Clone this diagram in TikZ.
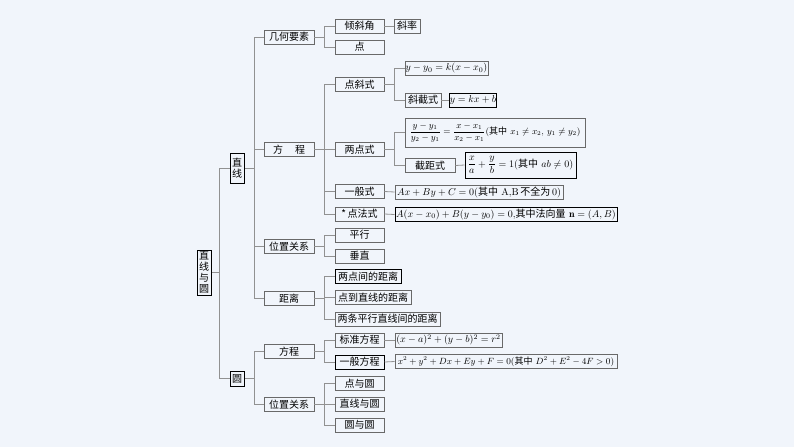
\documentclass[tikz,border=0pt]{standalone}
\usepackage{fontspec}
\usepackage{amsmath}
\newfontfamily\cjk{Noto Sans CJK SC}
\newcommand\zhtxt[1]{{\cjk #1}}
\definecolor{bg}{RGB}{241,245,251}
\definecolor{ln}{RGB}{145,145,145}
\definecolor{bd}{RGB}{105,105,105}
\begin{document}
\begin{tikzpicture}[x=1pt,y=-1pt,
  bx/.style={draw=bd, line width=0.8pt, inner sep=0pt, minimum height=14pt,
    font=\cjk\fontsize{10}{11}\selectfont, anchor=center},
  tk/.style={bx, draw=black, line width=1pt},
  fm/.style={bx, font=\fontsize{10}{11}\selectfont},
  fms/.style={bx, font=\fontsize{9}{10}\selectfont},
  fmt/.style={tk, font=\fontsize{10}{11}\selectfont},
  cn/.style={draw=ln, line width=0.8pt}]
\fill[bg] (0,0) rectangle (794,447);
\useasboundingbox (0,0) rectangle (794,447);

% level 0 and 1
\node[tk, minimum width=14pt, minimum height=45pt, align=center] (root) at (204,272.5) {直\\线\\与\\圆};
\node[tk, minimum width=14pt, minimum height=30pt, align=center] (zx) at (237,168) {直\\线};
\node[tk, minimum width=14pt, minimum height=15pt] (yuan) at (237,378.5) {圆};

% level 2
\node[bx, minimum width=50pt] (jhys) at (289,37) {几何要素};
\node[bx, minimum width=50pt] (fc) at (289,149.5) {方\hspace{12pt}程};
\node[bx, minimum width=50pt] (wz) at (289,246.5) {位置关系};
\node[bx, minimum width=50pt] (jl) at (289,298.5) {距离};
\node[bx, minimum width=50pt] (yfc) at (289,351.5) {方程};
\node[bx, minimum width=50pt] (ywz) at (289,404.5) {位置关系};

% level 3
\node[bx, minimum width=49pt] (qxj) at (359.5,26) {倾斜角};
\node[bx, minimum width=49pt] (dian) at (359.5,47) {点};
\node[bx, minimum width=26pt] (xl) at (407,26) {斜率};
\node[bx, minimum width=49pt] (dxs) at (359.5,84.5) {点斜式};
\node[bx, minimum width=49pt] (lds) at (359.5,149.5) {两点式};
\node[bx, minimum width=49pt] (ybs) at (359.5,191.5) {一般式};
\node[bx, minimum width=49pt] (dfs) at (359.5,214) {*\,点法式};
\node[bx, minimum width=49pt] (px) at (359.5,235) {平行};
\node[bx, minimum width=49pt] (cz) at (359.5,256) {垂直};
\node[tk, minimum width=66pt] (jla) at (368,276.5) {两点间的距离};
\node[bx, minimum width=76pt] (jlb) at (373,297.5) {点到直线的距离};
\node[bx, minimum width=105pt] (jlc) at (387.5,319) {两条平行直线间的距离};
\node[bx, minimum width=49pt] (bzfc) at (359.5,340) {标准方程};
\node[tk, minimum width=49pt] (ybfc) at (359.5,362) {一般方程};
\node[bx, minimum width=49pt] (dyy) at (359.5,383.5) {点与圆};
\node[bx, minimum width=49pt] (zxyy) at (359.5,404) {直线与圆};
\node[bx, minimum width=49pt] (yyy) at (359.5,425) {圆与圆};

% level 4
\node[fm, minimum width=83pt] (fa) at (446.5,68) {$y-y_0=k(x-x_0)$};
\node[bx, minimum width=36pt] (xjs) at (423,100) {斜截式};
\node[fmt, minimum width=46pt] (fb) at (473,100) {$y=kx+b$};
\node[fms, minimum width=180pt, minimum height=29pt] (fcf) at (495,132.5)
  {$\dfrac{y-y_1}{y_2-y_1}=\dfrac{x-x_1}{x_2-x_1}$(\zhtxt{其中}\ $x_1\neq x_2,\,y_1\neq y_2$)};
\node[bx, minimum width=50pt] (jjs) at (430,165.5) {截距式};
\node[fmt, minimum width=111pt, minimum height=26pt] (fd) at (520.5,165)
  {$\dfrac{x}{a}+\dfrac{y}{b}=1$(\zhtxt{其中}\ $ab\neq 0$)};
\node[fm, minimum width=168pt] (fe) at (479,192)
  {$Ax+By+C=0$(\zhtxt{其中}\ A,B\,\zhtxt{不全为}\,0)};
\node[fmt, minimum width=222pt] (ff) at (506,214.5)
  {$A(x-x_0)+B(y-y_0)=0$,\zhtxt{其中法向量}\ $\mathbf{n}=(A,B)$};
\node[fm, minimum width=107pt] (fg) at (448.5,340) {$(x-a)^2+(y-b)^2=r^2$};
\node[fms, minimum width=222pt] (fh) at (506,361.5)
  {$x^2+y^2+Dx+Ey+F=0$(\zhtxt{其中}\ $D^2+E^2-4F>0$)};

% connectors
\foreach \c in {zx,yuan} \draw[cn] (\c.west) -- ++(-10,0) |- (root.east);
\foreach \c in {jhys,fc,wz,jl} \draw[cn] (\c.west) -- ++(-9,0) |- (zx.east);
\foreach \c in {yfc,ywz} \draw[cn] (\c.west) -- ++(-9,0) |- (yuan.east);
\foreach \c in {qxj,dian} \draw[cn] (\c.west) -- ++(-10,0) |- (jhys.east);
\foreach \c in {dxs,lds,ybs,dfs} \draw[cn] (\c.west) -- ++(-10,0) |- (fc.east);
\foreach \c in {px,cz} \draw[cn] (\c.west) -- ++(-10,0) |- (wz.east);
\foreach \c in {jla,jlb,jlc} \draw[cn] (\c.west) -- ++(-10,0) |- (jl.east);
\foreach \c in {bzfc,ybfc} \draw[cn] (\c.west) -- ++(-10,0) |- (yfc.east);
\foreach \c in {dyy,zxyy,yyy} \draw[cn] (\c.west) -- ++(-10,0) |- (ywz.east);
\foreach \c in {fa,xjs} \draw[cn] (\c.west) -- ++(-10,0) |- (dxs.east);
\foreach \c in {fcf,jjs} \draw[cn] (\c.west) -- ++(-10,0) |- (lds.east);
\draw[cn] (qxj.east) -- (xl.west);
\draw[cn] (xjs.east) -- (fb.west);
\draw[cn] (jjs.east) -- (fd.west);
\draw[cn] (ybs.east) -- (fe.west);
\draw[cn] (dfs.east) -- (ff.west);
\draw[cn] (bzfc.east) -- (fg.west);
\draw[cn] (ybfc.east) -- (fh.west);
\end{tikzpicture}
\end{document}
